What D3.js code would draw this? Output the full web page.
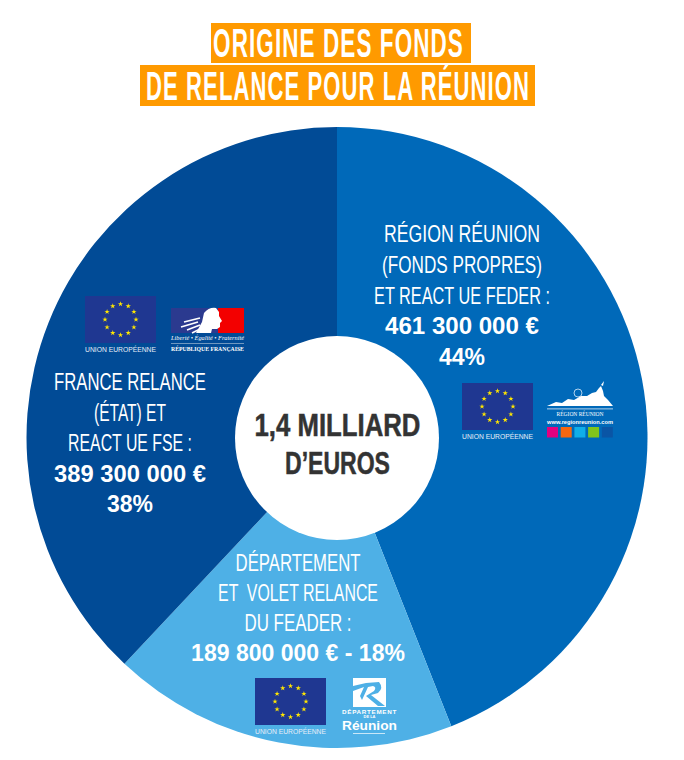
<!DOCTYPE html>
<html><head><meta charset="utf-8">
<script src="https://cdn.jsdelivr.net/npm/d3@7/dist/d3.min.js"></script>
<style>html,body{margin:0;padding:0;background:#fff;overflow:hidden}svg{display:block}text{white-space:pre}</style>
</head><body><svg id="c" width="684" height="760"></svg>
<script>
const categories = ["Région Réunion", "Département", "France Relance"];
const values = [44, 18, 38];
const colors = ["#0069b9", "#4eb0e6", "#014b96"];
const titleLines = ["ORIGINE DES FONDS", "DE RELANCE POUR LA RÉUNION"];
const centerLines = ["1,4 MILLIARD", "D’EUROS"];
const labelRegion = [["RÉGION RÉUNION",0],["(FONDS PROPRES)",0],["ET REACT UE FEDER :",0],["461 300 000 €",1],["44%",1]];
const labelFrance = [["FRANCE RELANCE",0],["(ÉTAT) ET",0],["REACT UE FSE :",0],["389 300 000 €",1],["38%",1]];
const labelDept = [["DÉPARTEMENT",0],["ET  VOLET RELANCE",0],["DU FEADER :",0],["189 800 000 € - 18%",1]];

const svg = d3.select("#c");
const FONT = "'Liberation Sans Narrow','Liberation Sans',sans-serif";
const SANS = "'Liberation Sans',sans-serif";
const SERIF = "'Liberation Serif',serif";
const cx = 337, cy = 437.5, R = 310.5, r0 = 102;

// text fitted to an exact width by horizontal scaling
function fit(parent, str, x, y, width, o){
  const t = parent.append("text").attr("text-anchor","middle")
    .attr("font-family",o.font||FONT).attr("font-weight",o.weight||400).attr("font-style",o.style||"normal")
    .attr("font-size",o.size).attr("fill",o.fill||"#fff").attr("letter-spacing",o.ls||0).text(str);
  const k = width / t.node().getComputedTextLength();
  t.attr("transform",`translate(${x},${y}) scale(${k},1)`);
  return t;
}

// title
const titleBoxes = [[211,23,260,40],[140,65,395,41]];
const titleGeom = [[338.5,57,251],[338,100,384]];
titleLines.forEach((t,i)=>{
  const b = titleBoxes[i], g = titleGeom[i];
  svg.append("rect").attr("x",b[0]).attr("y",b[1]).attr("width",b[2]).attr("height",b[3]).attr("fill","#ff9a00");
  fit(svg,t,g[0],g[1],g[2],{size:41,weight:700,ls:2});
});

// pie
const pie = d3.pie().sort(null).value(d=>d)(values);
const arc = d3.arc().innerRadius(0).outerRadius(R);
svg.append("g").attr("transform",`translate(${cx},${cy})`).selectAll("path").data(pie).join("path")
  .attr("d",arc).attr("fill",(d,i)=>colors[i]);
svg.append("circle").attr("cx",337).attr("cy",438).attr("r",r0).attr("fill","#fff");

// labels
function lines(arr, x, ys, widths, size){
  arr.forEach((l,i)=>fit(svg,l[0],x,ys[i],widths[i],{size,weight:l[1]?700:400}));
}
lines(labelRegion,462,[242,273,304,334,365],[156,160,176,154,46],24.5);
lines(labelFrance,130,[390,421,451,482,512],[152,72,124,152,46],24.5);
lines(labelDept,298,[571,601,631,661],[125,160,107,214],24.5);
centerLines.forEach((t,i)=>{
  fit(svg,t,337.5,[436,474][i],[166,105][i],{size:31,weight:700,fill:"#333"})
    .attr("stroke","#333").attr("stroke-width",.5);
});

// logos
const STARS = d3.range(12);
function eu(x,y){
  const w=71,h=47,g=svg.append("g");
  g.append("rect").attr("x",x).attr("y",y).attr("width",w).attr("height",h).attr("fill","#1f3791");
  STARS.forEach(k=>{
    const a=k/12*2*Math.PI;
    g.append("path").attr("d",d3.symbol(d3.symbolStar,9)())
      .attr("transform",`translate(${x+w/2+15.5*Math.sin(a)},${y+h/2-15.5*Math.cos(a)})`).attr("fill","#ffe600");
  });
  fit(g,"UNION EUROPÉENNE",x+w/2,y+h+8.5,71,{font:SANS,size:8,fill:"#e8eef7"});
}
eu(85,296); eu(462,383); eu(255,678);

// République française
(function(){
  const g=svg.append("g");
  g.append("rect").attr("x",171).attr("y",308).attr("width",47).attr("height",25).attr("fill","#2b3a8f");
  g.append("rect").attr("x",218).attr("y",308).attr("width",26).attr("height",25).attr("fill","#f30000");
  g.append("path").attr("fill","#fff").attr("d","M196 333 L202 322 L204 313 Q209 307 216 308 L219 312 L219 316 L222 321 L220 323 L220 327 L217 329 L212 329 L211 333 Z");
  g.append("path").attr("fill","none").attr("stroke","#fff").attr("stroke-width",1.6).attr("d","M184 322 L200 318 M181 327 L198 322 M187 330 L200 325 M192 333 L202 328");
  fit(g,"Liberté • Égalité • Fraternité",207.5,340,73,{font:SERIF,style:"italic",size:6});
  g.append("rect").attr("x",171).attr("y",343).attr("width",73).attr("height",.6).attr("fill","#bcd");
  fit(g,"RÉPUBLIQUE FRANÇAISE",207.5,350.5,73,{font:SERIF,weight:700,size:7});
})();

// Région Réunion
(function(){
  const g=svg.append("g");
  g.append("path").attr("fill","#fff").attr("d","M547 406 L556 402 L562 403 L568 399 L574 400 L581 396 L587 396 L592 393 L596 392 L599 388 L601 386 L603 391 L604 396 L608 400 L613 406 Z");
  g.append("circle").attr("cx",578).attr("cy",393).attr("r",4).attr("fill","none").attr("stroke","#dfeefa").attr("stroke-width",.8);
  g.append("path").attr("fill","#fff").attr("d","M601 385 L604 381 L603 386 Z");
  g.append("rect").attr("x",547).attr("y",408.5).attr("width",66).attr("height",.8).attr("fill","#dfeefa");
  fit(g,"RÉGION RÉUNION",580,416,47,{font:SERIF,size:7});
  fit(g,"www.regionreunion.com",580,423.5,66,{font:SANS,weight:700,size:6});
  ["#e4007f","#f7670f","#10aee8","#80c41c","#0a55a5"].forEach((c,i)=>{
    g.append("rect").attr("x",547+i*13.7).attr("y",427).attr("width",11).attr("height",10.5).attr("fill",c);
  });
})();

// Département
(function(){
  const g=svg.append("g");
  g.append("rect").attr("x",353).attr("y",678).attr("width",33).attr("height",29).attr("fill","#fff");
  g.append("path").attr("fill","#4eb0e6").attr("d","M353 686 L366 683 L379 682 Q384 688 378 693 L371 695 L385 706 L378 706 L366 696 L374 691 Q377 687 373 686 L368 687 L362 700 L360 696 L364 687 L353 691 Z");
  fit(g,"DÉPARTEMENT",369.5,713.5,55,{font:SANS,weight:700,size:5.5,ls:.6});
  fit(g,"DE LA",369.5,717.5,12,{font:SANS,weight:700,size:3});
  fit(g,"Réunion",369.5,730,55,{font:SANS,weight:700,size:13});
  g.append("rect").attr("x",353).attr("y",733).attr("width",32).attr("height",.7).attr("fill","#fff");
})();
</script></body></html>
